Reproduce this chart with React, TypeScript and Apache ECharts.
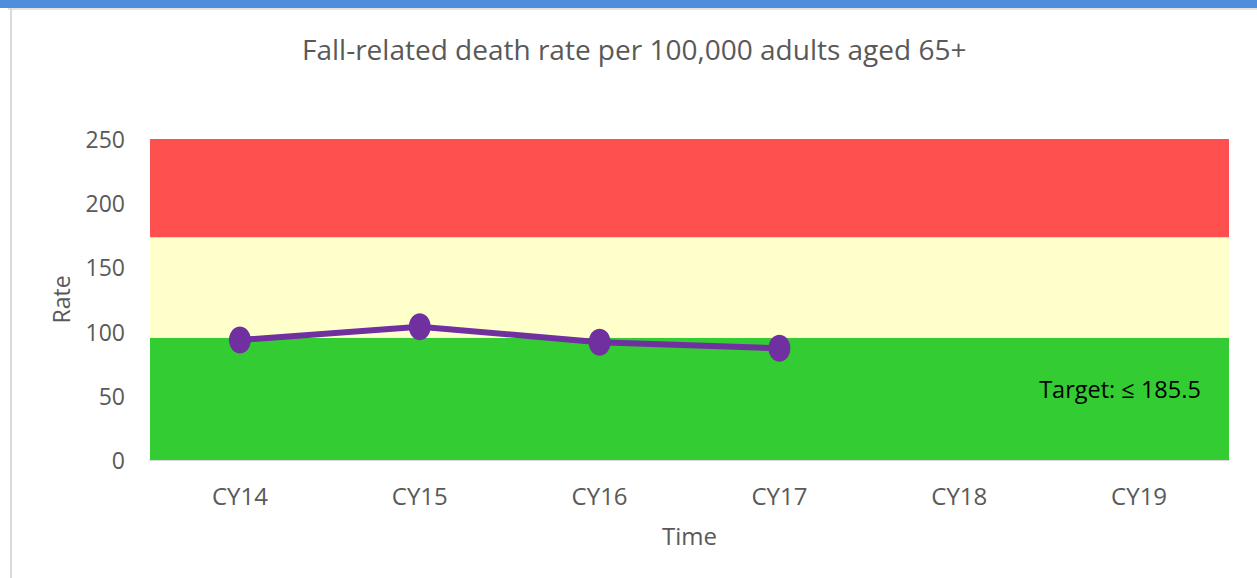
import React, { useEffect, useRef } from "react";
import * as echarts from "echarts";

const categories = ["CY14", "CY15", "CY16", "CY17", "CY18", "CY19"];
const rateValues: (number | null)[] = [93.5, 103.8, 91.7, 87.0, null, null];
const bandLimits = [0, 95.3, 173.5, 250];
const bandColors = ["#33CC33", "#FFFFCC", "#FF5050"];
const yTicks = { min: 0, max: 250, interval: 50 };
const titleText = "Fall-related death rate per 100,000 adults aged 65+";
const targetText = "Target: \u2264 185.5";

const FONT = "'Open Sans', 'Noto Sans', sans-serif";

export default function App() {
  const ref = useRef<HTMLDivElement>(null);
  useEffect(() => {
    document.body.style.margin = "0";
    const chart = echarts.init(ref.current!, null, { renderer: "svg" });
    const markData = bandColors.map((c, i) => [
      { yAxis: bandLimits[i], itemStyle: { color: c, opacity: 1 } },
      { yAxis: bandLimits[i + 1] },
    ]);
    chart.setOption({
      animation: false,
      backgroundColor: "#ffffff",
      title: {
        text: titleText,
        left: 297,
        top: 30,
        textStyle: { fontFamily: FONT, fontSize: 28, fontWeight: "normal", color: "#595959" },
      },
      grid: { left: 150, right: 28, top: 139, bottom: 118 },
      xAxis: {
        type: "category",
        data: categories,
        boundaryGap: true,
        name: "Time",
        nameLocation: "middle",
        nameGap: 63,
        nameTextStyle: { fontFamily: FONT, fontSize: 24, color: "#595959" },
        axisLine: { show: true, lineStyle: { color: "#d9d9d9", width: 2 } },
        axisTick: { show: false },
        axisLabel: { fontFamily: FONT, fontSize: 24, color: "#595959", margin: 23 },
        splitLine: { show: false },
      },
      yAxis: {
        type: "value",
        min: yTicks.min,
        max: yTicks.max,
        interval: yTicks.interval,
        name: "Rate",
        nameLocation: "middle",
        nameRotate: 90,
        nameGap: 78,
        nameTextStyle: { fontFamily: FONT, fontSize: 23, color: "#595959" },
        axisLine: { show: false },
        axisTick: { show: false },
        axisLabel: { fontFamily: FONT, fontSize: 23, color: "#595959", margin: 25 },
        splitLine: { show: false },
      },
      series: [
        {
          type: "line",
          data: rateValues,
          symbol: "circle",
          symbolSize: [22, 27],
          lineStyle: { color: "#7030A0", width: 6 },
          itemStyle: { color: "#7030A0" },
          z: 5,
          markArea: { silent: true, data: markData, z: 1 },
        },
      ],
      graphic: [
        { type: "rect", shape: { x: 0, y: 0, width: 1257, height: 8 }, style: { fill: "#4E8EDC" }, z: 10 },
        { type: "rect", shape: { x: 8, y: 8, width: 1249, height: 2 }, style: { fill: "#e3e3e3" }, z: 10 },
        { type: "rect", shape: { x: 10, y: 8, width: 2, height: 570 }, style: { fill: "#d9d9d9" }, z: 10 },
        {
          type: "text",
          x: 1120,
          y: 389,
          z: 20,
          style: {
            text: targetText,
            fontFamily: FONT,
            fontSize: 23.5,
            fill: "#000000",
            textAlign: "center",
            textVerticalAlign: "middle",
          },
        },
      ],
    });
    return () => chart.dispose();
  }, []);
  return (
    <div
      ref={ref}
      style={{ position: "fixed", left: 0, top: 0, width: 1257, height: 578 }}
    />
  );
}
